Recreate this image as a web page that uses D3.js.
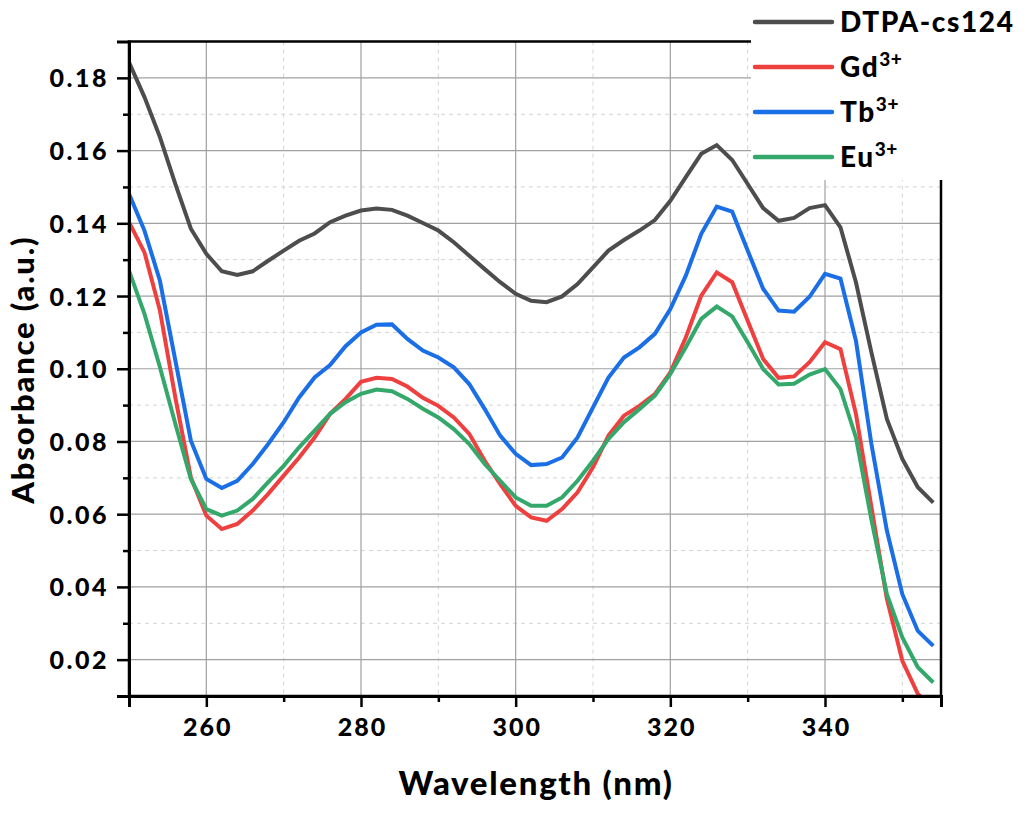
<!DOCTYPE html>
<html><head><meta charset="utf-8">
<script src="https://cdn.jsdelivr.net/npm/d3@7"></script>
<style>
html,body{margin:0;padding:0;background:#fff;}
svg{display:block;}
text{font-family:Lato,"Open Sans",sans-serif;font-weight:900;fill:#000;}
</style></head>
<body><svg id="chart" width="1024" height="819"></svg>
<script>
const wavelengths = [250,252,254,256,258,260,262,264,266,268,270,272,274,276,278,280,282,284,286,288,290,292,294,296,298,300,302,304,306,308,310,312,314,316,318,320,322,324,326,328,330,332,334,336,338,340,342,344,346,348,350,352,354];
const dtpa = [0.1843,0.1747,0.1637,0.1508,0.1385,0.1316,0.1268,0.1258,0.1268,0.1297,0.1325,0.1352,0.1372,0.1403,0.1421,0.1435,0.1441,0.1437,0.1421,0.1401,0.1380,0.1348,0.1311,0.1274,0.1238,0.1206,0.1187,0.1183,0.1199,0.1233,0.1279,0.1325,0.1354,0.1380,0.1409,0.1462,0.1527,0.1591,0.1615,0.1574,0.1508,0.1442,0.1407,0.1415,0.1442,0.1450,0.1389,0.1238,0.1045,0.0862,0.0752,0.0674,0.0632];
const gd = [0.1403,0.1320,0.1160,0.0920,0.0701,0.0596,0.0559,0.0573,0.0610,0.0656,0.0706,0.0756,0.0811,0.0876,0.0917,0.0964,0.0975,0.0972,0.0951,0.0920,0.0898,0.0866,0.0821,0.0747,0.0683,0.0623,0.0591,0.0582,0.0614,0.0660,0.0729,0.0816,0.0871,0.0898,0.0930,0.0990,0.1086,0.1201,0.1265,0.1238,0.1132,0.1027,0.0975,0.0979,0.1018,0.1073,0.1054,0.0876,0.0620,0.0367,0.0197,0.0106,0.0065];
const tb = [0.1481,0.1380,0.1242,0.1022,0.0802,0.0697,0.0672,0.0692,0.0738,0.0793,0.0853,0.0921,0.0976,0.1010,0.1062,0.1100,0.1121,0.1122,0.1082,0.1050,0.1031,0.1004,0.0958,0.0889,0.0816,0.0766,0.0735,0.0738,0.0756,0.0811,0.0894,0.0976,0.1031,0.1059,0.1096,0.1164,0.1256,0.1371,0.1446,0.1432,0.1325,0.1220,0.1160,0.1157,0.1198,0.1261,0.1248,0.1077,0.0793,0.0555,0.0380,0.0279,0.0238];
const eu = [0.1270,0.1151,0.1004,0.0848,0.0697,0.0614,0.0596,0.0610,0.0642,0.0688,0.0733,0.0784,0.0830,0.0876,0.0908,0.0931,0.0943,0.0938,0.0917,0.0890,0.0866,0.0834,0.0793,0.0738,0.0692,0.0646,0.0623,0.0623,0.0646,0.0692,0.0747,0.0807,0.0853,0.0889,0.0926,0.0986,0.1059,0.1137,0.1171,0.1144,0.1073,0.0999,0.0957,0.0959,0.0984,0.0999,0.0944,0.0811,0.0585,0.0380,0.0261,0.0179,0.0137];

const seriesNames = ["DTPA-cs124","Gd","Tb","Eu"];
const seriesSup = ["","3+","3+","3+"];
const seriesColors = ["#4d4d4d","#ef4040","#1a6ee6","#34a86a"];
const seriesValues = [dtpa, gd, tb, eu];

const xMajorTicks = [260,280,300,320,340];
const xMinorTicks = [250,270,290,310,330,350];
const yMajorTicks = [0.02,0.04,0.06,0.08,0.10,0.12,0.14,0.16,0.18];
const yMinorTicks = [0.03,0.05,0.07,0.09,0.11,0.13,0.15,0.17];
const xDomain = [250,355];
const yDomain = [0.01,0.19];

const svg = d3.select("#chart");
const L = 129, R = 941, T = 41.5, B = 696;
const x = d3.scaleLinear().domain(xDomain).range([L,R]);
const y = d3.scaleLinear().domain(yDomain).range([B,T]);

// grid
const grid = svg.append("g");
grid.selectAll(".vmin").data(xMinorTicks.filter(d=>d>xDomain[0])).enter().append("line")
  .attr("x1",d=>x(d)).attr("x2",d=>x(d)).attr("y1",T).attr("y2",B)
  .attr("stroke","#d4d4d4").attr("stroke-width",1).attr("stroke-dasharray","4,4");
grid.selectAll(".hmin").data(yMinorTicks).enter().append("line")
  .attr("y1",d=>y(d)).attr("y2",d=>y(d)).attr("x1",L).attr("x2",R)
  .attr("stroke","#d4d4d4").attr("stroke-width",1).attr("stroke-dasharray","4,4");
grid.selectAll(".vmaj").data(xMajorTicks).enter().append("line")
  .attr("x1",d=>x(d)).attr("x2",d=>x(d)).attr("y1",T).attr("y2",B)
  .attr("stroke","#a0a0a0").attr("stroke-width",1.2);
grid.selectAll(".hmaj").data(yMajorTicks).enter().append("line")
  .attr("y1",d=>y(d)).attr("y2",d=>y(d)).attr("x1",L).attr("x2",R)
  .attr("stroke","#a0a0a0").attr("stroke-width",1.2);

// clip
svg.append("clipPath").attr("id","clip").append("rect")
  .attr("x",L).attr("y",T).attr("width",R-L).attr("height",B-T);

const line = d3.line().x((d,i)=>x(wavelengths[i])).y(d=>y(d));
const lines = svg.append("g").attr("clip-path","url(#clip)");
seriesValues.forEach((vals,k)=>{
  lines.append("path").datum(vals).attr("d",line)
    .attr("fill","none").attr("stroke",seriesColors[k]).attr("stroke-width",4)
    .attr("stroke-linejoin","miter").attr("stroke-linecap","butt");
});

// frame
svg.append("rect").attr("x",L).attr("y",T).attr("width",R-L).attr("height",B-T)
  .attr("fill","none").attr("stroke","#000").attr("stroke-width",2.5);

// axes
const xAxis = d3.axisBottom(x).tickValues(xMajorTicks).tickSize(11).tickFormat(d3.format("d"));
const gx = svg.append("g").attr("transform",`translate(0,${B})`).call(xAxis);
gx.select(".domain").attr("stroke","#000").attr("stroke-width",3);
gx.selectAll(".tick line").attr("stroke","#000").attr("stroke-width",2.5);
gx.selectAll(".tick text").attr("dy",0).attr("y",40).attr("dx",1)
  .style("font-size","25px").style("font-family","Lato, sans-serif").style("font-weight","900").style("letter-spacing","2px");
const xAxisMinor = d3.axisBottom(x).tickValues(xMinorTicks).tickSize(6).tickFormat("");
const gxm = svg.append("g").attr("transform",`translate(0,${B})`).call(xAxisMinor);
gxm.select(".domain").remove();
gxm.selectAll(".tick line").attr("stroke","#000").attr("stroke-width",2.5);

const yAxis = d3.axisLeft(y).tickValues(yMajorTicks).tickSize(12).tickFormat(d3.format(".2f"));
const gy = svg.append("g").attr("transform",`translate(${L},0)`).call(yAxis);
gy.select(".domain").attr("stroke","#000").attr("stroke-width",3);
gy.selectAll(".tick line").attr("stroke","#000").attr("stroke-width",2.5);
gy.selectAll(".tick text").attr("x",-20).attr("dy","0.36em")
  .style("font-size","25px").style("font-family","Lato, sans-serif").style("font-weight","900").style("letter-spacing","2.5px");
const yAxisMinor = d3.axisLeft(y).tickValues(yMinorTicks).tickSize(6).tickFormat("");
const gym = svg.append("g").attr("transform",`translate(${L},0)`).call(yAxisMinor);
gym.select(".domain").remove();
gym.selectAll(".tick line").attr("stroke","#000").attr("stroke-width",2.5);

// titles
svg.append("text").attr("x",(L+R)/2+1).attr("y",795).attr("text-anchor","middle")
  .style("font-size","33px").style("letter-spacing","1.7px").text("Wavelength (nm)");
svg.append("text").attr("transform",`translate(34,${(T+B)/2+1}) rotate(-90)`).attr("text-anchor","middle")
  .style("font-size","31px").style("letter-spacing","1.8px").text("Absorbance (a.u.)");

// legend
const lg = svg.append("g");
lg.append("rect").attr("x",751).attr("y",0).attr("width",273).attr("height",180).attr("fill","#fff");
const legY = [22,67,112,157];
seriesNames.forEach((n,k)=>{
  lg.append("line").attr("x1",755).attr("x2",832).attr("y1",legY[k]).attr("y2",legY[k])
    .attr("stroke",seriesColors[k]).attr("stroke-width",4.5).attr("stroke-linecap","round");
  const t = lg.append("text").attr("x",840).attr("y",legY[k]+10).style("font-size","28px").style("letter-spacing","1.6px");
  t.append("tspan").text(n);
  if (seriesSup[k]) t.append("tspan").attr("dy",-11).style("font-size","19px").style("letter-spacing","0.5px").text(seriesSup[k]);
});
</script></body></html>
